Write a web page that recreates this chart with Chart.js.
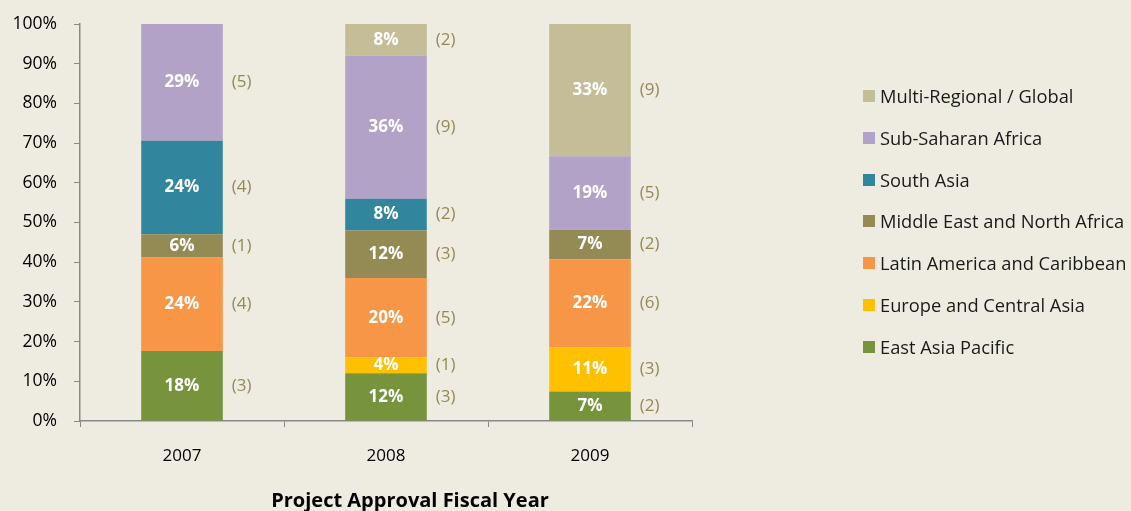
<!DOCTYPE html>
<html>
<head>
<meta charset="utf-8">
<script src="https://cdn.jsdelivr.net/npm/chart.js@4.4.0/dist/chart.umd.min.js"></script>
<style>
  body { margin: 0; background: #EEECE1; }
  #wrap { position: relative; width: 1131px; height: 511px; }
  #legend { position: absolute; left: 863px; top: 84px; font-family: 'Open Sans', sans-serif; font-size: 18.3px; line-height: 24px; color: #1a1a1a; }
  .item { height: 41.8px; display: flex; align-items: flex-start; white-space: nowrap; }
  .box { width: 12px; height: 12px; margin-right: 5px; margin-top: 6px; flex: none; }
  #xtitle { position: absolute; left: 410px; top: 487px; transform: translateX(-50%); white-space: nowrap;
    font-family: 'Open Sans', sans-serif; font-weight: bold; font-size: 20px; line-height: 26px; color: #000; }
</style>
</head>
<body>
<div id="wrap">
  <canvas id="chart" width="1131" height="511"></canvas>
  <div id="legend"></div>
  <div id="xtitle">Project Approval Fiscal Year</div>
</div>
<script>
// number of projects per region and year (the bracketed numbers)
let years = ['2007', '2008', '2009'];
let regions = ['East Asia Pacific', 'Europe and Central Asia', 'Latin America and Caribbean',
  'Middle East and North Africa', 'South Asia', 'Sub-Saharan Africa', 'Multi-Regional / Global'];
let eastAsia = [3, 3, 2];
let europe = [0, 1, 3];
let latinAmerica = [4, 5, 6];
let middleEast = [1, 3, 2];
let southAsia = [4, 2, 0];
let subSaharan = [5, 9, 5];
let multiRegional = [0, 2, 9];
let yTicks = [0, 10, 20, 30, 40, 50, 60, 70, 80, 90, 100];

let colors = ['#77933C', '#FFC000', '#F79646', '#948A54', '#31859C', '#B2A2C7', '#C4BD97'];
let counts = [eastAsia, europe, latinAmerica, middleEast, southAsia, subSaharan, multiRegional];
let FONT = "'Open Sans', sans-serif";

let totals = years.map((y, i) => counts.reduce((s, c) => s + c[i], 0));

let datasets = regions.map((name, k) => ({
  label: name,
  data: counts[k].map((c, i) => c / totals[i] * 100),
  counts: counts[k],
  backgroundColor: colors[k],
  borderWidth: 0,
  barPercentage: 0.4,
  categoryPercentage: 1
}));

let barLabels = {                                   // white % inside, (n) to the right
  id: 'barLabels',
  afterDatasetsDraw(chart) {
    let ctx = chart.ctx;
    ctx.save();
    ctx.textBaseline = 'middle';
    chart.data.datasets.forEach((ds, k) => {
      chart.getDatasetMeta(k).data.forEach((bar, i) => {
        if (!ds.counts[i]) return;
        let mid = (bar.y + bar.base) / 2;
        ctx.font = 'bold 17px ' + FONT;
        ctx.fillStyle = '#ffffff';
        ctx.textAlign = 'center';
        ctx.fillText(Math.round(ds.data[i]) + '%', bar.x, mid);
        ctx.font = '17px ' + FONT;
        ctx.fillStyle = '#948A54';
        ctx.textAlign = 'left';
        ctx.fillText('(' + ds.counts[i] + ')', bar.x + bar.width / 2 + 9, mid);
      });
    });
    ctx.restore();
  }
};

new Chart(document.querySelector('#chart'), {
  type: 'bar',
  data: { labels: years, datasets: datasets },
  plugins: [barLabels],
  options: {
    responsive: false,
    animation: false,
    layout: { padding: { left: 0, right: 439, top: 24, bottom: 0 } },
    plugins: { legend: { display: false }, tooltip: { enabled: false } },
    scales: {
      x: {
        stacked: true,
        grid: { drawOnChartArea: false, color: '#888888', tickLength: 6, offset: true },
        border: { color: '#888888', width: 1.5 },
        ticks: { color: '#000', padding: 19, font: { family: FONT, size: 17 } },
        afterFit: (s) => { s.height = 90; s.paddingLeft = 0; s.paddingRight = 0; }
      },
      y: {
        stacked: true,
        min: 0,
        max: 100,
        afterBuildTicks: (s) => { s.ticks = yTicks.map(v => ({ value: v })); },
        grid: { drawOnChartArea: false, color: '#888888', tickLength: 6 },
        border: { color: '#888888', width: 1.5 },
        ticks: { color: '#000', padding: 17, font: { family: FONT, size: 17.5 },
          callback: (v) => v + '%' },
        afterFit: (s) => { s.width = 80; s.paddingTop = 0; s.paddingBottom = 0; }
      }
    }
  }
});

let legendHTML = '';                                  // legend listed top-down in reverse order
for (let k = regions.length - 1; k >= 0; k--) {
  legendHTML += "<div class='item'><div class='box' style='background:" + colors[k] + "'></div>" + regions[k] + "</div>";
}
document.querySelector('#legend').innerHTML = legendHTML;
</script>
</body>
</html>
